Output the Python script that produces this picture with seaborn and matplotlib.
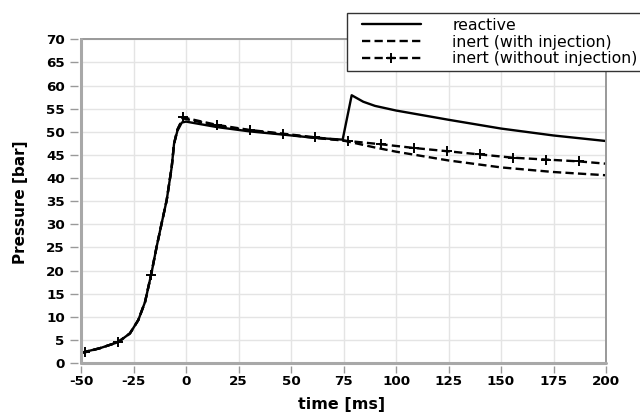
import matplotlib
matplotlib.use("Agg")
import matplotlib.pyplot as plt
from matplotlib.lines import Line2D
from matplotlib.legend_handler import HandlerLine2D
import seaborn as sns
import pandas as pd

# ---------------- data ----------------
t_react = [-50, -41, -32.4, -26.7, -22.7, -19.5, -16.5, -14, -11.6, -9.2, -6.8, -5.7, -4.1, -2.0, 0,
           15, 30, 46, 61, 74.6, 78.9, 84.4, 90, 100, 125, 150, 175, 200]
p_react = [2.2, 3.2, 4.5, 6.4, 9.3, 13.2, 19.3, 25.1, 30.2, 35.2, 42.4, 47.4, 50.2, 52.0, 52.2,
           51.0, 50.1, 49.4, 48.7, 48.3, 57.9, 56.5, 55.6, 54.6, 52.6, 50.7, 49.2, 48.0]

t_inj = [-50, -41, -32.4, -26.7, -22.7, -19.5, -16.5, -14, -11.6, -9.2, -6.8, -5.7, -4.1, -1.5,
         15, 30, 46, 61, 75, 90, 100, 125, 150, 175, 200]
p_inj = [2.2, 3.2, 4.5, 6.4, 9.3, 13.2, 19.3, 25.1, 30.2, 35.2, 42.4, 47.4, 50.4, 52.9,
         51.3, 50.3, 49.5, 48.7, 48.1, 46.6, 45.7, 43.8, 42.3, 41.3, 40.6]

t_noinj = [-50, -48.1, -41, -32.4, -26.7, -22.7, -19.5, -16.7, -14, -11.6, -9.2, -6.8, -5.7, -4.1, -1.3,
           14.6, 30.3, 46.0, 61.6, 77.3, 92.9, 108.6, 124.3, 140.0, 155.6, 171.3, 187.0, 200]
p_noinj = [2.2, 2.3, 3.2, 4.5, 6.4, 9.3, 13.2, 19.0, 25.1, 30.2, 35.2, 42.4, 47.4, 50.5, 53.1,
           51.5, 50.4, 49.6, 48.8, 48.0, 47.3, 46.5, 45.8, 45.1, 44.4, 44.0, 43.6, 43.1]
noinj_marker_idx = [1, 3, 7, 14, 15, 16, 17, 18, 19, 20, 21, 22, 23, 24, 25, 26]

labels = ["reactive", "inert (with injection)", "inert (without injection)"]
x_ticks = [-50, -25, 0, 25, 50, 75, 100, 125, 150, 175, 200]
y_ticks = list(range(0, 75, 5))

# ---------------- style ----------------
sns.set_style("whitegrid", {"grid.color": "#e4e4e4", "axes.edgecolor": "#999999",
                            "text.color": "black", "axes.labelcolor": "black",
                            "xtick.color": "black", "ytick.color": "black"})
plt.rcParams["font.family"] = ["DejaVu Sans"]

fig = plt.figure(figsize=(6.4, 4.13), dpi=100)
ax = fig.add_axes([81 / 640, 1 - 363 / 413, (606 - 81) / 640, (363 - 39.3) / 413])

df_r = pd.DataFrame({"t": t_react, "p": p_react})
df_i = pd.DataFrame({"t": t_inj, "p": p_inj})
df_n = pd.DataFrame({"t": t_noinj, "p": p_noinj})

dash = (0, (3.5, 1.8))
sns.lineplot(data=df_r, x="t", y="p", ax=ax, color="black", linewidth=1.7,
             estimator=None, sort=False, label=labels[0])
sns.lineplot(data=df_i, x="t", y="p", ax=ax, color="black", linewidth=1.7,
             estimator=None, sort=False, label=labels[1], linestyle=dash)
sns.lineplot(data=df_n, x="t", y="p", ax=ax, color="black", linewidth=1.7,
             estimator=None, sort=False, label=labels[2], linestyle=dash,
             marker="+", markersize=7, markeredgewidth=1.4, markeredgecolor="black",
             markevery=noinj_marker_idx)

ax.set_xlim(-50, 200)
ax.set_ylim(0, 70)
ax.set_xticks(x_ticks, labels=[str(v) for v in x_ticks])
ax.set_yticks(y_ticks, labels=[str(v) for v in y_ticks])
ax.grid(True, color="#e4e4e4", linewidth=1.0)

ax.tick_params(axis="y", which="major", direction="out", length=6, width=1.0,
               color="#999999", labelcolor="black", pad=3.5, left=True, labelsize=9.7)
ax.tick_params(axis="x", which="major", direction="out", length=5, width=1.0,
               color="#999999", labelcolor="black", pad=1.5, bottom=True, labelsize=9.7)

# spines: left/bottom offset (for tick gap) and hidden, frame redrawn
for s in ["left", "bottom"]:
    ax.spines[s].set_position(("outward", 2.2))
    ax.spines[s].set_visible(False)
for s in ["top", "right"]:
    ax.spines[s].set_color("#999999")
    ax.spines[s].set_linewidth(1.4)
ax.add_line(Line2D([0, 0], [0, 1], transform=ax.transAxes, color="#a8a8a8",
                   linewidth=2.2, clip_on=False, zorder=5))
ax.add_line(Line2D([0, 1], [0, 0], transform=ax.transAxes, color="#a8a8a8",
                   linewidth=2.2, clip_on=False, zorder=5))

ax.set_xlabel("time [ms]", fontsize=11.5, fontweight="bold", color="black")
ax.set_ylabel("Pressure [bar]", fontsize=11, fontweight="bold", color="black")
ax.xaxis.set_label_coords(0.497, -0.105)
ax.yaxis.set_label_coords(-0.10, 0.497)

# legend
ax.get_legend().remove()
handles, _ = ax.get_legend_handles_labels()
leg = fig.legend(handles, labels, loc="upper left", bbox_to_anchor=(347 / 640, 1 - 13 / 413),
                 bbox_transform=fig.transFigure, borderaxespad=0, fontsize=11.3,
                 frameon=True, fancybox=False, shadow=False, framealpha=1,
                 edgecolor="#333333", borderpad=0.3, labelspacing=0.12,
                 handlelength=4.4, handletextpad=2.0, labelcolor="black",
                 handler_map={h: HandlerLine2D(xpad=0.66) for h in handles})
leg.get_frame().set_linewidth(1.0)

fig.canvas.draw()
for tick in ax.xaxis.get_major_ticks() + ax.yaxis.get_major_ticks():
    tick.label1.set_fontweight("bold")
    tick.label1.set_color("black")

fig.savefig("out.png", dpi=100)
